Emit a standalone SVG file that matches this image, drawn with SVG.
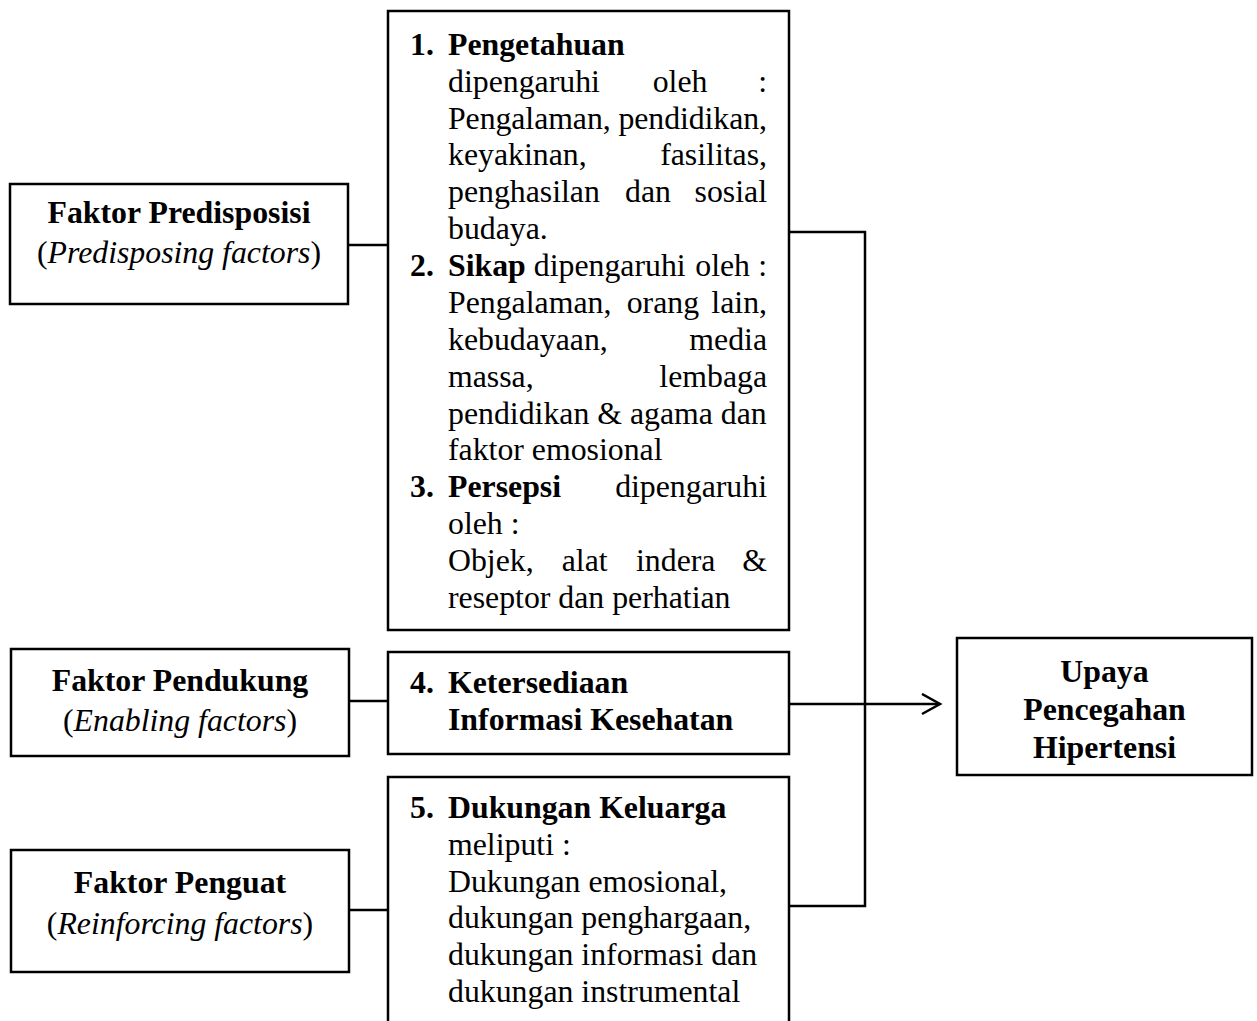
<svg xmlns="http://www.w3.org/2000/svg" width="1257" height="1021" viewBox="0 0 1257 1021">
<style>
  .box { fill: #fff; stroke: #000; stroke-width: 2.5; }
  .ln { fill: none; stroke: #000; stroke-width: 2.5; }
  text { font-family: "Liberation Serif", "Times New Roman", serif; font-size: 31.8px; fill: #000; }
  .b { font-weight: bold; }
  .i { font-style: italic; }
  .c { text-anchor: middle; }
  .e { text-anchor: end; }
</style>
<defs>
  <marker id="arr" markerWidth="22" markerHeight="24" refX="19" refY="11" orient="auto" markerUnits="userSpaceOnUse">
    <polyline points="1,1 19,11 1,21" fill="none" stroke="#000" stroke-width="2.5"/>
  </marker>
</defs>
<rect width="1257" height="1021" fill="#fff"/>

<g id="connectors">
  <line class="ln" x1="349" y1="245" x2="388" y2="245"/>
  <line class="ln" x1="349" y1="701" x2="388" y2="701"/>
  <line class="ln" x1="349" y1="910" x2="388" y2="910"/>
  <polyline class="ln" points="789,232 865,232 865,906 789,906"/>
  <line class="ln" x1="789" y1="704" x2="940" y2="704" marker-end="url(#arr)"/>
</g>

<g id="predisposisi">
  <rect class="box" x="10" y="184" width="338" height="120"/>
  <text class="b c" x="179" y="223">Faktor Predisposisi</text>
  <text class="c" x="179" y="263">(<tspan class="i">Predisposing factors</tspan>)</text>
</g>

<g id="pendukung">
  <rect class="box" x="11" y="649" width="338" height="107"/>
  <text class="b c" x="180" y="691">Faktor Pendukung</text>
  <text class="c" x="180" y="731">(<tspan class="i">Enabling factors</tspan>)</text>
</g>

<g id="penguat">
  <rect class="box" x="11" y="850" width="338" height="122"/>
  <text class="b c" x="180" y="893">Faktor Penguat</text>
  <text class="c" x="180" y="934">(<tspan class="i">Reinforcing factors</tspan>)</text>
</g>

<g id="faktor-1-3">
  <rect class="box" x="388" y="11" width="401" height="619"/>
  <text class="b" x="410" y="54.8">1.</text>
  <text class="b" x="448" y="54.8">Pengetahuan</text>
  <text x="448" y="91.7">dipengaruhi</text>
  <text x="652.7" y="91.7">oleh</text>
  <text class="e" x="767" y="91.7">:</text>
  <text x="448" y="128.5" textLength="319" lengthAdjust="spacing">Pengalaman, pendidikan,</text>
  <text x="448" y="165.4">keyakinan,</text>
  <text class="e" x="767" y="165.4">fasilitas,</text>
  <text x="448" y="202.3">penghasilan</text>
  <text x="625" y="202.3">dan</text>
  <text class="e" x="767" y="202.3">sosial</text>
  <text x="448" y="239.2">budaya.</text>
  <text class="b" x="410" y="276">2.</text>
  <text x="448" y="276"><tspan class="b">Sikap</tspan> dipengaruhi</text>
  <text class="e" x="750" y="276">oleh</text>
  <text class="e" x="767" y="276">:</text>
  <text x="448" y="312.9">Pengalaman,</text>
  <text x="626.7" y="312.9">orang</text>
  <text class="e" x="767" y="312.9">lain,</text>
  <text x="448" y="349.7">kebudayaan,</text>
  <text class="e" x="767" y="349.7">media</text>
  <text x="448" y="386.6">massa,</text>
  <text class="e" x="767" y="386.6">lembaga</text>
  <text x="448" y="423.5">pendidikan &amp; agama dan</text>
  <text x="448" y="460.4">faktor emosional</text>
  <text class="b" x="410" y="497.2">3.</text>
  <text class="b" x="448" y="497.2">Persepsi</text>
  <text class="e" x="767" y="497.2">dipengaruhi</text>
  <text x="448" y="534.1">oleh :</text>
  <text x="448" y="571">Objek,</text>
  <text x="561.7" y="571">alat</text>
  <text x="636" y="571">indera</text>
  <text class="e" x="767" y="571">&amp;</text>
  <text x="448" y="607.9">reseptor dan perhatian</text>
</g>

<g id="faktor-4">
  <rect class="box" x="388" y="652" width="401" height="102"/>
  <text class="b" x="410" y="693">4.</text>
  <text class="b" x="448" y="693">Ketersediaan</text>
  <text class="b" x="448" y="729.6">Informasi Kesehatan</text>
</g>

<g id="faktor-5">
  <rect class="box" x="388" y="777" width="401" height="270"/>
  <text class="b" x="410" y="818">5.</text>
  <text class="b" x="448" y="818">Dukungan Keluarga</text>
  <text x="448" y="854.8">meliputi :</text>
  <text x="448" y="891.6">Dukungan emosional,</text>
  <text x="448" y="928.3">dukungan penghargaan,</text>
  <text x="448" y="965.1">dukungan informasi dan</text>
  <text x="448" y="1001.8">dukungan instrumental</text>
</g>

<g id="upaya">
  <rect class="box" x="957" y="638" width="295" height="137"/>
  <text class="b c" x="1104.5" y="682">Upaya</text>
  <text class="b c" x="1104.5" y="720">Pencegahan</text>
  <text class="b c" x="1104.5" y="758">Hipertensi</text>
</g>
</svg>
